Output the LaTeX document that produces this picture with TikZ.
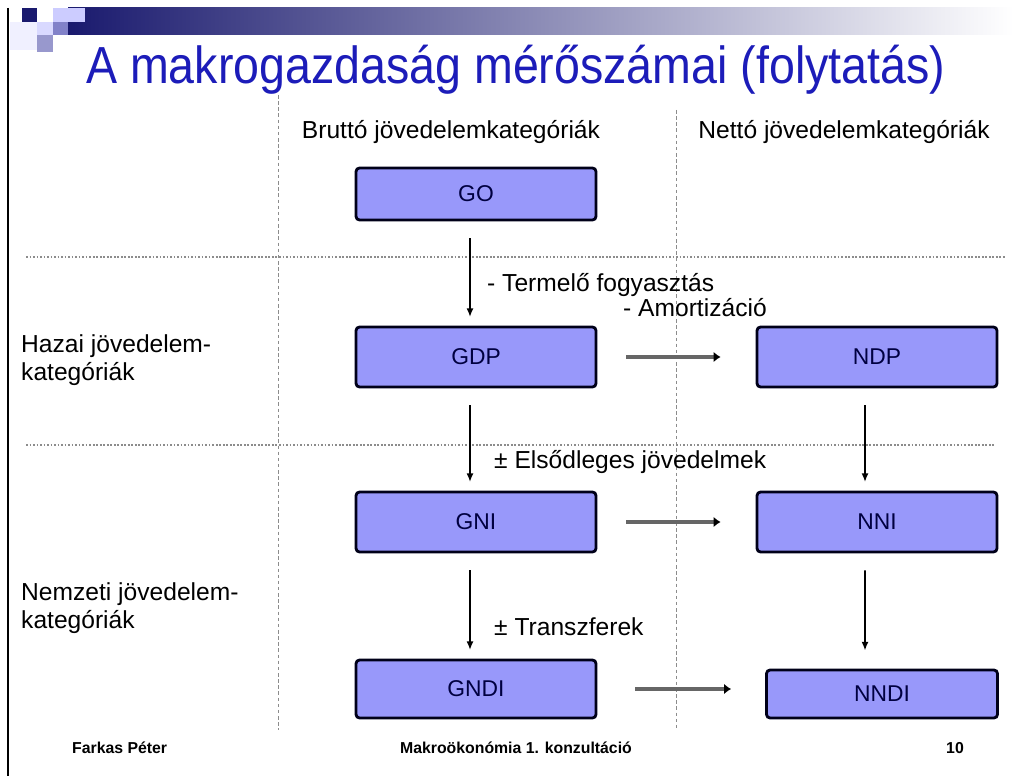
\documentclass[tikz,border=0pt]{standalone}
\usepackage{fontspec}
\setmainfont{Liberation Sans}
\usetikzlibrary{arrows.meta, calc}

\definecolor{boxfill}{RGB}{152,152,250}
\definecolor{titleblue}{RGB}{28,28,185}
\definecolor{barnavy}{RGB}{26,26,110}

\begin{document}
\begin{tikzpicture}[
					x=0.02cm, y=-0.02cm,
					kat/.style={draw=black!90!blue, line width=1.6pt, fill=boxfill, rounded corners=2pt,
						minimum width=4.8cm, minimum height=1.2cm, inner sep=0pt,
						font=\fontsize{13}{15}\selectfont, text=black!75!blue},
					fej/.style={font=\fontsize{14}{16}\selectfont},
					lep/.style={-{Latex[length=5pt,width=4pt]}, line width=1.1pt,
						shorten <=0.34cm, shorten >=0.17cm},
					atv/.style={-{Latex[length=4pt,width=6pt,black]}, line width=2.4pt, draw=black!60,
						shorten <=0.58cm, shorten >=0.7cm},
					hatar/.style={draw=black!45, dash pattern=on 2pt off 1.5pt, line width=0.5pt}
					]
					\useasboundingbox (0,0) rectangle (1013,776);
					% fejlec
					\shade[left color=barnavy, right color=white] (68,8) rectangle (1013,35);
					\fill[barnavy] (22,8) rectangle (37,22);
					\fill[blue!20!white] (53,8) rectangle (85,22);
					\fill[blue!15!white] (37,22) rectangle (53,35);
					\fill[blue!40!gray!70] (53,22) rectangle (68,35);
					\fill[blue!35!gray!60] (37,35) rectangle (53,52);
					\fill[blue!6!white] (10,22) rectangle (37,50);
					\draw[line width=1.2pt] (8,8) -- (8,776);
					\node[anchor=west, text=titleblue, font=\fontsize{26.5}{30}\selectfont] (cim) at (80,70)
					{\scalebox{1}[1.12]{A makrogazdaság mérőszámai (folytatás)}};
					% racs
					\draw[hatar] (278,95) -- (278,730);
					\draw[hatar] (676,110) -- (676,730);
					\draw[hatar, line width=1.4pt, dash pattern=on 1pt off 1pt] (26,257) -- (1005,257);
					\draw[hatar, line width=1pt, dash pattern=on 1pt off 1pt] (26,445) -- (995,445);
					\node[fej] (brutto) at (451,132) {Bruttó jövedelemkategóriák};
					\node[fej] (netto) at (844,132) {Nettó jövedelemkategóriák};
					\node[fej, anchor=west, align=left] (hazai) at (15,360)
					{Hazai jövedelem-\\kategóriák};
					\node[fej, anchor=west, align=left] (nemzeti) at (15,608)
					{Nemzeti jövedelem-\\kategóriák};
					% dobozok
					\node[kat, minimum height=1.04cm] (go) at (476,194) {GO};
					\node[kat] (gdp) at (476,357) {GDP};
					\node[kat] (ndp) at (877,357) {NDP};
					\node[kat] (gni) at (476,522) {GNI};
					\node[kat] (nni) at (877,522) {NNI};
					\node[kat, minimum height=1.16cm] (gndi) at (476,689) {GNDI};
					\node[kat, minimum width=4.62cm, minimum height=0.96cm] (nndi) at (882,694) {NNDI};
					% nyilak
					\draw[lep] ([xshift=-0.12cm]go.south) -- ([xshift=-0.12cm]gdp.north);
					\draw[lep] ([xshift=-0.12cm]gdp.south) -- ([xshift=-0.12cm]gni.north);
					\draw[lep] ([xshift=-0.12cm]gni.south) -- ([xshift=-0.12cm]gndi.north);
					\draw[lep] ([xshift=-0.24cm]ndp.south) -- ([xshift=-0.24cm]nni.north);
					\draw[lep, shorten >=0.36cm] ([xshift=-0.24cm]nni.south) -- ([xshift=-0.34cm]nndi.north);
					\draw[atv] (gdp) -- (ndp);
					\draw[atv] (gni) -- (nni);
					\draw[atv, shorten <=0.76cm, shorten >=0.68cm] (gndi.east) -- (gndi.east -| nndi.west);
					\node[fej, anchor=west] (termelo) at (481,285) {- Termelő fogyasztás};
					\node[fej, anchor=west] (amort) at (617,308) {- Amortizáció};
					\node[fej, anchor=west] (elsodl) at (488,462) {± Elsődleges jövedelmek};
					\node[fej, anchor=west] (transzf) at (488,627) {± Transzferek};
					% lablec
					\node[anchor=west, font=\fontsize{9}{10}\bfseries] (szerzo) at (66,748) {Farkas Péter};
					\node[font=\fontsize{9}{10}\bfseries] (targy) at (516,748) {Makroökonómia 1. konzultáció};
					\node[font=\fontsize{9}{10}\bfseries] (oldal) at (955,748) {10};
				\end{tikzpicture}
\end{document}
